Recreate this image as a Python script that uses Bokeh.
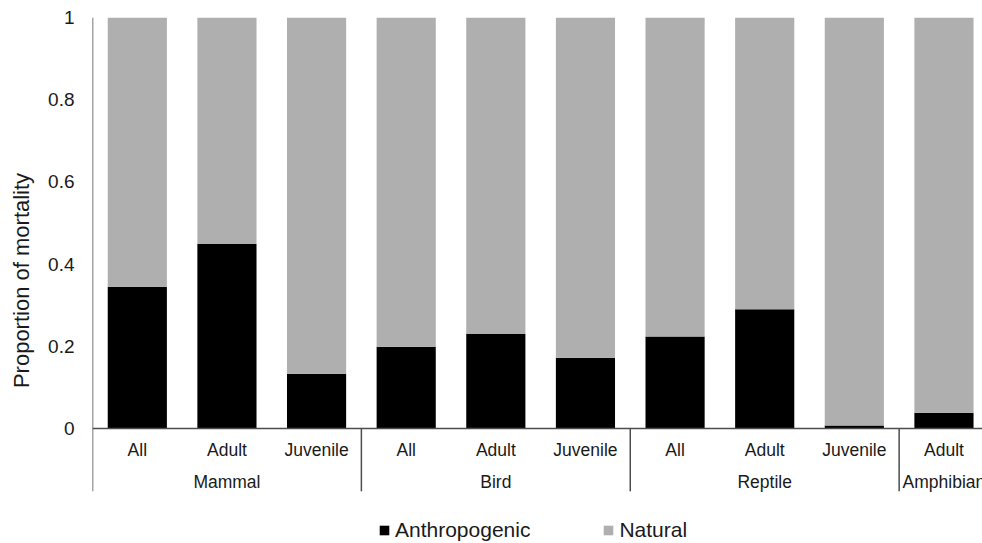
from bokeh.plotting import figure
from bokeh.models import (ColumnDataSource, Range1d, FixedTicker, Span, Legend, LegendItem)
from bokeh.core.properties import value
from bokeh.embed import file_html
from bokeh.resources import INLINE
import numpy as np

groups = ["Mammal", "Mammal", "Mammal", "Bird", "Bird", "Bird",
          "Reptile", "Reptile", "Reptile", "Amphibian"]
stages = ["All", "Adult", "Juvenile", "All", "Adult", "Juvenile",
          "All", "Adult", "Juvenile", "Adult"]
anthropogenic = [0.345, 0.449, 0.133, 0.199, 0.230, 0.172, 0.224, 0.290, 0.007, 0.038]
natural = [round(1 - a, 3) for a in anthropogenic]
y_ticks = [0, 0.2, 0.4, 0.6, 0.8, 1]
series_names = ["Anthropogenic", "Natural"]

FONT = "Liberation Sans"
TXT = "#1a1a1a"
LINE = "#4d4d4d"
Y_BOTTOM = -0.28
SEP_BOTTOM = -0.153

n = len(stages)
xs = np.arange(n) + 0.5
src = ColumnDataSource(dict(x=xs, anth=anthropogenic, nat=natural,
                            top_all=[a + b for a, b in zip(anthropogenic, natural)],
                            stage=stages, group=groups))

p = figure(width=982, height=543, output_backend="svg", toolbar_location=None,
           x_range=Range1d(0, 9.93), y_range=Range1d(Y_BOTTOM, 1),
           min_border_left=92, min_border_right=0, min_border_top=17, min_border_bottom=0)
p.outline_line_color = None
p.grid.visible = False
p.xaxis.visible = False
p.background_fill_color = "white"
p.border_fill_color = "white"

yax = p.yaxis[0]
yax.ticker = FixedTicker(ticks=y_ticks)
yax.major_label_overrides = {0: "0", 1: "1", 0.2: "0.2", 0.4: "0.4", 0.6: "0.6", 0.8: "0.8"}
yax.major_tick_line_color = None
yax.major_tick_out = 0
yax.major_tick_in = 0
yax.minor_tick_line_color = None
yax.major_label_standoff = 18
yax.major_label_text_font = FONT
yax.major_label_text_font_size = "19px"
yax.major_label_text_color = TXT
yax.axis_label = "Proportion of mortality"
yax.axis_label_text_font = FONT
yax.axis_label_text_font_size = "22px"
yax.axis_label_text_font_style = "normal"
yax.axis_label_text_color = TXT
yax.axis_label_standoff = 11
yax.axis_line_color = None

r1 = p.vbar(x="x", bottom=0, top="anth", width=0.66, source=src,
            fill_color="#000000", line_color=None)
r2 = p.vbar(x="x", bottom="anth", top="top_all", width=0.66, source=src,
            fill_color="#afafaf", line_color=None)

# x axis line at 0
p.segment(x0=[0], x1=[9.93], y0=[0], y1=[0], line_color=LINE, line_width=1.5)
# left axis line (from 1 down through category area)
p.segment(x0=[0], x1=[0], y0=[1], y1=[SEP_BOTTOM], line_color=LINE, line_width=1.5)

# group separators
bounds = [i for i in range(1, n) if groups[i] != groups[i - 1]]
p.segment(x0=bounds, x1=bounds, y0=[0] * len(bounds), y1=[SEP_BOTTOM] * len(bounds),
          line_color=LINE, line_width=1.5)

# category labels
p.text(x="x", y=-0.0535, text="stage", source=src, text_align="center",
       text_baseline="middle", text_font=value(FONT), text_font_size="17.5px",
       text_color=TXT)

# group labels
gnames, gcenters = [], []
for g in dict.fromkeys(groups):
    idx = [i for i, gg in enumerate(groups) if gg == g]
    gnames.append(g)
    gcenters.append((idx[0] + idx[-1] + 1) / 2)
p.text(x=gcenters, y=[-0.131] * len(gnames), text=gnames, text_align="center",
       text_baseline="middle", text_font=value(FONT), text_font_size="17.5px",
       text_color=TXT)

legend = Legend(items=[LegendItem(label=series_names[0], renderers=[r1]),
                       LegendItem(label=series_names[1], renderers=[r2])],
                location=(286, 1), orientation="horizontal",
                glyph_width=12, glyph_height=12, label_standoff=5, spacing=72,
                padding=0, margin=0, border_line_color=None,
                background_fill_alpha=0,
                label_text_font=FONT, label_text_font_size="21px",
                label_text_color=TXT, label_height=22)
p.add_layout(legend, "center")

open("out.html", "w").write(file_html(p, INLINE))
